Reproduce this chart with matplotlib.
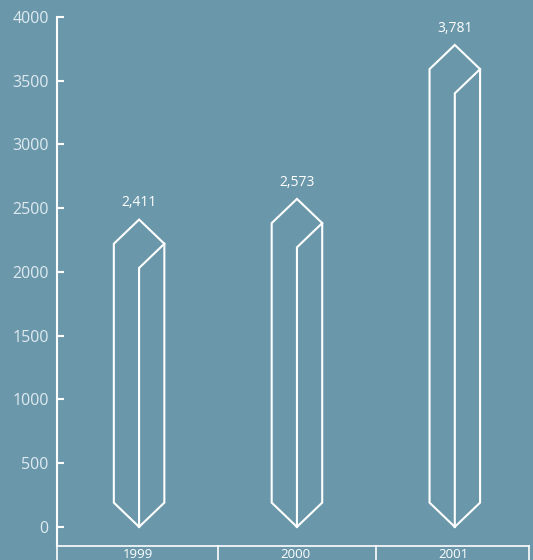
import matplotlib.pyplot as plt
import matplotlib.transforms as mtransforms

# chart data
years = ["1999", "2000", "2001"]
values = [2411, 2573, 3781]
value_labels = ["2,411", "2,573", "3,781"]
y_ticks = [0, 500, 1000, 1500, 2000, 2500, 3000, 3500, 4000]

bg = "#6a98aa"
line_col = "white"
tick_col = "#dfeaf0"

plt.rcParams['font.family'] = ['Open Sans', 'DejaVu Sans']

fig = plt.figure(figsize=(5.33, 5.60), dpi=100, facecolor=bg)
ax = fig.add_axes([57 / 533, 14 / 560, 472 / 533, 529 / 560])
ax.set_facecolor(bg)

ax.set_xlim(-0.52, 2.47)
ax.set_ylim(-150, 4000)

# crystal shaped bars
hw = 0.16     # half width in category units
off = 190     # diagonal drop in data units
for i, v in enumerate(values):
    outer_x = [i, i - hw, i - hw, i, i + hw, i + hw, i]
    outer_y = [0, off, v - off, v, v - off, off, 0]
    ax.plot(outer_x, outer_y, color=line_col, lw=1.5, solid_joinstyle='miter')
    ax.plot([i + hw, i, i], [v - off, v - 2 * off, 0], color=line_col, lw=1.5,
            solid_joinstyle='miter')
    ax.annotate(value_labels[i], (i, v), xytext=(0, 12), textcoords='offset points',
                ha='center', va='center', color='white', fontsize=10)

# axes styling
for s in ['top', 'right']:
    ax.spines[s].set_visible(False)
ax.spines['left'].set_color(line_col)
ax.spines['left'].set_linewidth(1.5)
ax.spines['left'].set_bounds(-150, 4000)
ax.spines['bottom'].set_color(line_col)
ax.spines['bottom'].set_linewidth(1.2)

ax.set_yticks(y_ticks)
ax.set_yticklabels([str(t) for t in y_ticks])
ax.tick_params(axis='y', direction='in', length=5, width=1.5, color=line_col,
               labelcolor=tick_col, labelsize=11.5, pad=6)
ax.set_xticks([])

# category row under the axis
trans = mtransforms.blended_transform_factory(ax.transData, ax.transAxes)
for xs in [-0.52, 0.5, 1.5, 2.47]:
    ax.plot([xs, xs], [0, -0.05], color=line_col, lw=1.2, transform=trans, clip_on=False)
for i, yr in enumerate(years):
    ax.text(i - 0.01, -0.004, yr, transform=trans, ha='center', va='top',
            color='white', fontsize=9.5)

fig.savefig("out.png", dpi=100, facecolor=bg)
